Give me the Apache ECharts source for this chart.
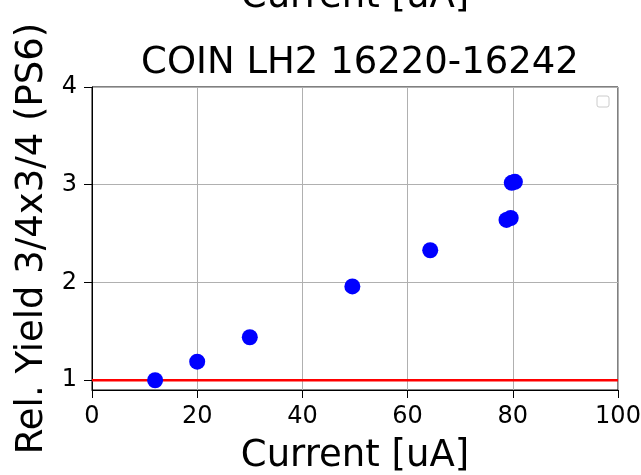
<!DOCTYPE html>
<html><head><meta charset="utf-8">
<script src="https://cdn.jsdelivr.net/npm/echarts@6/dist/echarts.min.js"></script>
<style>html,body{margin:0;padding:0;background:#fff}#c{width:641px;height:475px}</style>
</head><body><div id="c"></div>
<script>
const currents = [12, 20, 30, 49.5, 64.3, 78.8, 79.6, 79.8, 80.4];
const yields = [1.0, 1.19, 1.44, 1.96, 2.33, 2.64, 2.66, 3.02, 3.03];
const refLineX = [0, 100];
const refLineY = [1, 1];
const xTicks = [0, 20, 40, 60, 80, 100];
const yTicks = [1, 2, 3, 4];
const titleText = 'COIN LH2 16220-16242';
const xName = 'Current [uA]';
const yName = 'Rel. Yield 3/4x3/4 (PS6)';

const font = 'DejaVu Sans';
const chart = echarts.init(document.getElementById('c'));
chart.setOption({
  animation: false,
  backgroundColor: '#fff',
  title: {text: titleText, left: 355, top: 40, textAlign: 'center',
    textStyle: {fontFamily: font, fontSize: 37, fontWeight: 'normal', color: '#000'}},
  graphic: [
    {type: 'text', x: 355, y: -3, style: {text: xName, textAlign: 'center', textVerticalAlign: 'middle', font: '37px "DejaVu Sans"', fill: '#000'}},
    {type: 'rect', shape: {x: 597, y: 96, width: 12, height: 11, r: 2}, style: {fill: '#fff', stroke: '#cccccc', lineWidth: 1}}
  ],
  grid: {left: 92, right: 23, top: 87, bottom: 85, outerBoundsMode: 'none', containLabel: false,
    show: true, borderColor: '#000', borderWidth: 1, backgroundColor: 'transparent'},
  xAxis: {type: 'value', min: 0, max: 100, interval: 20,
    name: xName, nameLocation: 'middle', nameGap: 48,
    nameTextStyle: {fontFamily: font, fontSize: 37, color: '#000'},
    axisLine: {show: true, lineStyle: {color: '#000', width: 1}},
    axisTick: {show: true, length: 8, lineStyle: {color: '#000'}},
    axisLabel: {fontFamily: font, fontSize: 24, color: '#000', margin: 15},
    splitLine: {show: true, lineStyle: {color: '#b0b0b0', width: 1}}},
  yAxis: {type: 'value', min: 0.9, max: 4,
    name: yName, nameLocation: 'middle', nameGap: 41,
    nameTextStyle: {fontFamily: font, fontSize: 37, color: '#000'},
    axisLine: {show: true, lineStyle: {color: '#000', width: 1}},
    axisTick: {show: true, length: 8, lineStyle: {color: '#000'}, customValues: yTicks},
    axisLabel: {fontFamily: font, fontSize: 24, color: '#000', margin: 15, customValues: yTicks},
    splitLine: {show: true, lineStyle: {color: '#b0b0b0', width: 1}}},
  series: [
    {type: 'line', data: refLineX.map((x, i) => [x, refLineY[i]]), symbol: 'none',
      lineStyle: {color: '#ff0000', width: 2.5}, z: 3},
    {type: 'scatter', data: currents.map((x, i) => [x, yields[i]]), symbol: 'circle', symbolSize: 16,
      itemStyle: {color: '#0000ff', opacity: 1}, z: 4}
  ]
});
</script></body></html>
